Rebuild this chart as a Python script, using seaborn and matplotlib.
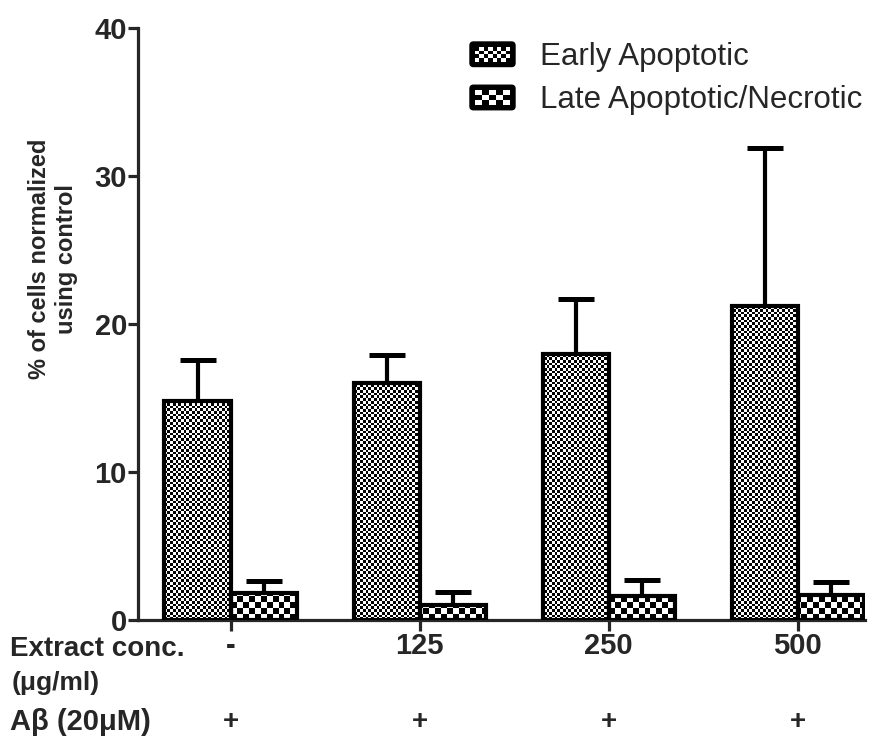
import numpy as np
import pandas as pd
import matplotlib
matplotlib.use("Agg")
import matplotlib.pyplot as plt
import seaborn as sns
from matplotlib import font_manager
from matplotlib.legend_handler import HandlerBase
from matplotlib.patches import Rectangle, FancyBboxPatch
import matplotlib.transforms as mtrans

# ---- data ----
concs = ["-", "125", "250", "500"]
series = ["Early Apoptotic", "Late Apoptotic/Necrotic"]
early_mean = [14.8, 16.0, 18.0, 21.2]
early_err = [2.8, 1.9, 3.7, 10.7]
late_mean = [1.85, 1.0, 1.6, 1.7]
late_err = [0.8, 0.9, 1.1, 0.85]
abeta = ["+", "+", "+", "+"]
yticks = [0, 10, 20, 30, 40]

df = pd.DataFrame({
    "conc": concs * 2,
    "type": [series[0]] * 4 + [series[1]] * 4,
    "value": early_mean + late_mean,
})
errs = {series[0]: early_err, series[1]: late_err}
cells = {series[0]: 2.7, series[1]: 5.8}  # checker cell size in px

sns.set_style("ticks")
plt.rcParams["font.family"] = ["Liberation Sans", "DejaVu Sans"]

names = {f.name for f in font_manager.fontManager.ttflist}
if "Liberation Sans Narrow" in names:
    ylab_family, ylab_size = ["Liberation Sans Narrow", "Liberation Sans"], 19
else:
    ylab_family, ylab_size = ["Liberation Sans", "DejaVu Sans"], 17

W, H = 887, 738
fig = plt.figure(figsize=(W / 100, H / 100), dpi=100)
ax_l, ax_r, ax_b, ax_t = 138 / W, 865 / W, 1 - 620 / H, 1 - 28 / H
ax = fig.add_axes([ax_l, ax_b, ax_r - ax_l, ax_t - ax_b])

sns.barplot(data=df, x="conc", y="value", hue="type", order=concs,
            hue_order=series, palette=["white", "white"], saturation=1,
            width=0.7, edgecolor="black", linewidth=3.0, errorbar=None,
            legend=False, ax=ax, zorder=3)

xlim = (-0.49, 3.355)
ylim = (0, 40)
ax.set_xlim(*xlim)
ax.set_ylim(*ylim)

axw_px = (ax_r - ax_l) * W
axh_px = (ax_t - ax_b) * H

def checker(cell):
    ncols = int(round(axw_px / cell))
    nrows = int(round(axh_px / cell))
    return np.add.outer(np.arange(nrows), np.arange(ncols)) % 2

for s, cont in zip(series, ax.containers):
    arr = checker(cells[s])
    for bar, e in zip(cont, errs[s]):
        bar.set_facecolor("none")
        im = ax.imshow(arr, cmap="gray", vmin=0, vmax=1, extent=(*xlim, *ylim),
                       origin="lower", interpolation="nearest", aspect="auto",
                       zorder=2)
        im.set_clip_path(bar)
        cx = bar.get_x() + bar.get_width() / 2
        h = bar.get_height()
        ax.errorbar([cx], [h], yerr=[[0], [e]], fmt="none", ecolor="black",
                    elinewidth=3.0, capsize=13, capthick=3.6, zorder=1)

ax.set_xlim(*xlim)
ax.set_ylim(*ylim)

# axes styling
sns.despine(ax=ax)
for sp in ["left", "bottom"]:
    ax.spines[sp].set_linewidth(2.3)
ax.set_yticks(yticks)
ax.set_yticklabels([str(t) for t in yticks], fontsize=21, fontweight="bold")
ax.tick_params(axis="y", length=7, width=2.3, pad=1)
ax.tick_params(axis="x", length=8, width=2.3, pad=0.5)
ax.set_xticks(range(len(concs)))
ax.set_xticklabels(concs, fontsize=21, fontweight="bold")
ax.set_xlabel("")
ax.set_ylabel("% of cells normalized\nusing control", fontsize=ylab_size,
              fontweight="bold", family=ylab_family, linespacing=1.22)
ax.yaxis.set_label_coords(-0.083, 0.61)

# bottom-left row labels
fig.text(10 / W, 1 - 636 / H, "Extract conc.", fontsize=20, fontweight="bold",
         ha="left", va="top")
fig.text(12 / W, 1 - 683 / H, "(μg/ml)", fontsize=19, fontweight="bold",
         ha="left", va="center")
fig.text(10 / W, 1 - 722 / H, "Aβ (20μM)", fontsize=21, fontweight="bold",
         ha="left", va="center")
trans = mtrans.blended_transform_factory(ax.transData, fig.transFigure)
for i, lab in enumerate(abeta):
    ax.text(i, 1 - 722 / H, lab, transform=trans, fontsize=20,
            fontweight="bold", ha="center", va="center")


# legend with checker pattern handles
class CheckerHandler(HandlerBase):
    def __init__(self, ncols, nrows):
        super().__init__()
        self.ncols = ncols
        self.nrows = nrows

    def create_artists(self, legend, orig_handle, xdescent, ydescent, width,
                       height, fontsize, trans):
        x0, y0 = -xdescent, -ydescent
        box = FancyBboxPatch((x0, y0), width, height,
                             boxstyle="round,pad=0,rounding_size=2.5",
                             facecolor="black", edgecolor="black", lw=1,
                             transform=trans)
        arts = [box]
        m = 3.5
        cw = (width - 2 * m) / self.ncols
        ch = (height - 2 * m) / self.nrows
        for r in range(self.nrows):
            for c in range(self.ncols):
                if (r + c) % 2 == 0:
                    arts.append(Rectangle((x0 + m + c * cw, y0 + m + r * ch),
                                          cw, ch, facecolor="white",
                                          edgecolor="none", transform=trans))
        return arts


h1 = Rectangle((0, 0), 1, 1)
h2 = Rectangle((0, 0), 1, 1)
leg = fig.legend([h1, h2], series, loc="upper left",
                 bbox_to_anchor=(470 / W, 1 - 42 / H), frameon=False,
                 fontsize=22.5, handlelength=1.44, handleheight=0.83,
                 handletextpad=0.8, labelspacing=0.42, borderpad=0,
                 borderaxespad=0,
                 handler_map={h1: CheckerHandler(8, 4), h2: CheckerHandler(5, 3)})

fig.savefig("out.png", dpi=100)
